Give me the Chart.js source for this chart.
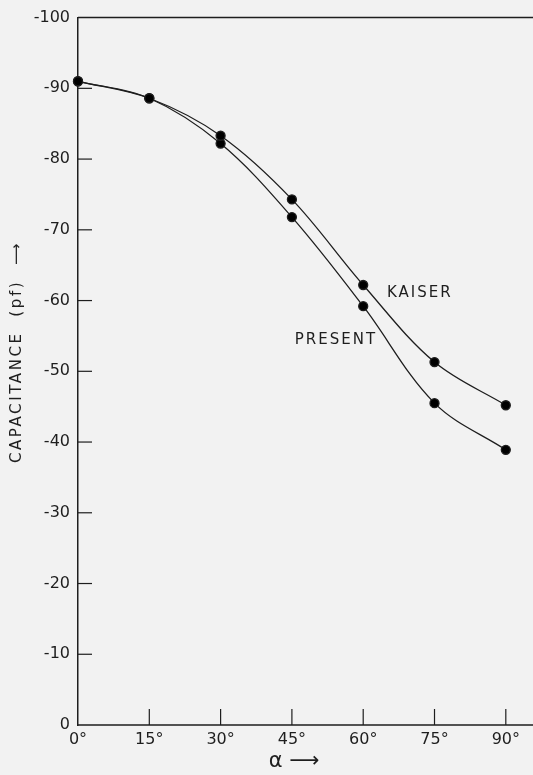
<!DOCTYPE html>
<html>
<head>
<meta charset="utf-8">
<script src="https://cdn.jsdelivr.net/npm/chart.js@4.4.1/dist/chart.umd.min.js"></script>
<style>
    html, body { margin: 0; padding: 0; background: #f2f2f2; }
    #chart { display: block; }
</style>
</head>
<body>
<canvas id="chart" width="533" height="775"></canvas>
<script>
// angle in degrees, capacitance in pf (plotted as magnitude)
const angles = [0, 15, 30, 45, 60, 75, 90];
const kaiser = [91.0, 88.6, 83.3, 74.3, 62.2, 51.3, 45.2];
const present = [91.0, 88.6, 82.2, 71.8, 59.2, 45.5, 38.9];
const xTicks = [0, 15, 30, 45, 60, 75, 90];
const yTicks = [0, 10, 20, 30, 40, 50, 60, 70, 80, 90, 100];

const ink = '#1e1e1e';
const font = '"DejaVu Sans", sans-serif';

function toPoints(values) {
    return angles.map((a, i) => ({ x: a, y: values[i] }));
}

// frame, inward ticks and hand lettering
const paperPlugin = {
    id: 'paper',
    afterDraw(chart) {
        const ctx = chart.ctx;
        const area = chart.chartArea;
        const xs = chart.scales.x;
        const ys = chart.scales.y;
        ctx.save();
        ctx.strokeStyle = ink;
        ctx.lineWidth = 1.5;

        // top border and bottom axis, both running off the right edge
        ctx.beginPath();
        ctx.moveTo(area.left, area.top);
        ctx.lineTo(chart.width, area.top);
        ctx.moveTo(area.left, area.bottom);
        ctx.lineTo(chart.width, area.bottom);
        ctx.stroke();

        // ticks pointing into the plot
        ctx.lineWidth = 1.2;
        yTicks.forEach(v => {
            if (v === 0 || v === 100) return;
            const py = ys.getPixelForValue(v);
            ctx.beginPath();
            ctx.moveTo(area.left, py);
            ctx.lineTo(area.left + 14, py);
            ctx.stroke();
        });
        xTicks.forEach(v => {
            if (v === 0) return;
            const px = xs.getPixelForValue(v);
            ctx.beginPath();
            ctx.moveTo(px, area.bottom);
            ctx.lineTo(px, area.bottom - 16);
            ctx.stroke();
        });

        // curve labels
        ctx.fillStyle = ink;
        ctx.font = '15px ' + font;
        ctx.textBaseline = 'middle';
        ctx.textAlign = 'left';
        ctx.letterSpacing = '2px';
        ctx.fillText('KAISER', xs.getPixelForValue(65.0), ys.getPixelForValue(61.0));
        ctx.fillText('PRESENT', xs.getPixelForValue(45.6), ys.getPixelForValue(54.4));

        // y axis title
        ctx.save();
        ctx.translate(17, 352);
        ctx.rotate(-Math.PI / 2);
        ctx.textAlign = 'center';
        ctx.letterSpacing = '2.6px';
        ctx.fillText('CAPACITANCE  (pf)  \u27F6', 0, 0);
        ctx.restore();

        // x axis title
        ctx.letterSpacing = '0px';
        ctx.font = '21px ' + font;
        ctx.textAlign = 'center';
        ctx.fillText('\u03B1 \u27F6', 294, 762);
        ctx.restore();
    }
};

new Chart(document.getElementById('chart'), {
    type: 'line',
    data: {
        datasets: [
            {
                label: 'KAISER',
                data: toPoints(kaiser),
                borderColor: ink,
                backgroundColor: '#000',
                borderWidth: 1.3,
                pointRadius: 4.5,
                pointHoverRadius: 4.5,
                tension: 0.35,
                clip: false
            },
            {
                label: 'PRESENT',
                data: toPoints(present),
                borderColor: ink,
                backgroundColor: '#000',
                borderWidth: 1.3,
                pointRadius: 4.5,
                pointHoverRadius: 4.5,
                tension: 0.35,
                clip: false
            }
        ]
    },
    options: {
        responsive: false,
        animation: false,
        layout: { padding: { top: 13, right: 0, left: 0, bottom: 0 } },
        plugins: {
            legend: { display: false },
            tooltip: { enabled: false }
        },
        scales: {
            x: {
                type: 'linear',
                min: 0,
                max: 94.5,
                afterFit(scale) { scale.height = 50; scale.paddingRight = 0; },
                afterBuildTicks(scale) { scale.ticks = xTicks.map(v => ({ value: v })); },
                grid: { display: false, drawTicks: false },
                border: { display: false },
                ticks: {
                    padding: 5,
                    color: ink,
                    font: { family: font, size: 16 },
                    callback: v => v + '\u00B0'
                }
            },
            y: {
                type: 'linear',
                min: 0,
                max: 100,
                afterFit(scale) { scale.width = 78; },
                afterBuildTicks(scale) { scale.ticks = yTicks.map(v => ({ value: v })); },
                grid: { display: false, drawTicks: false },
                border: { color: ink, width: 1.5 },
                ticks: {
                    padding: 8,
                    color: ink,
                    font: { family: font, size: 16 },
                    callback: v => v === 0 ? '0' : '-' + v
                }
            }
        }
    },
    plugins: [paperPlugin]
});
</script>
</body>
</html>
